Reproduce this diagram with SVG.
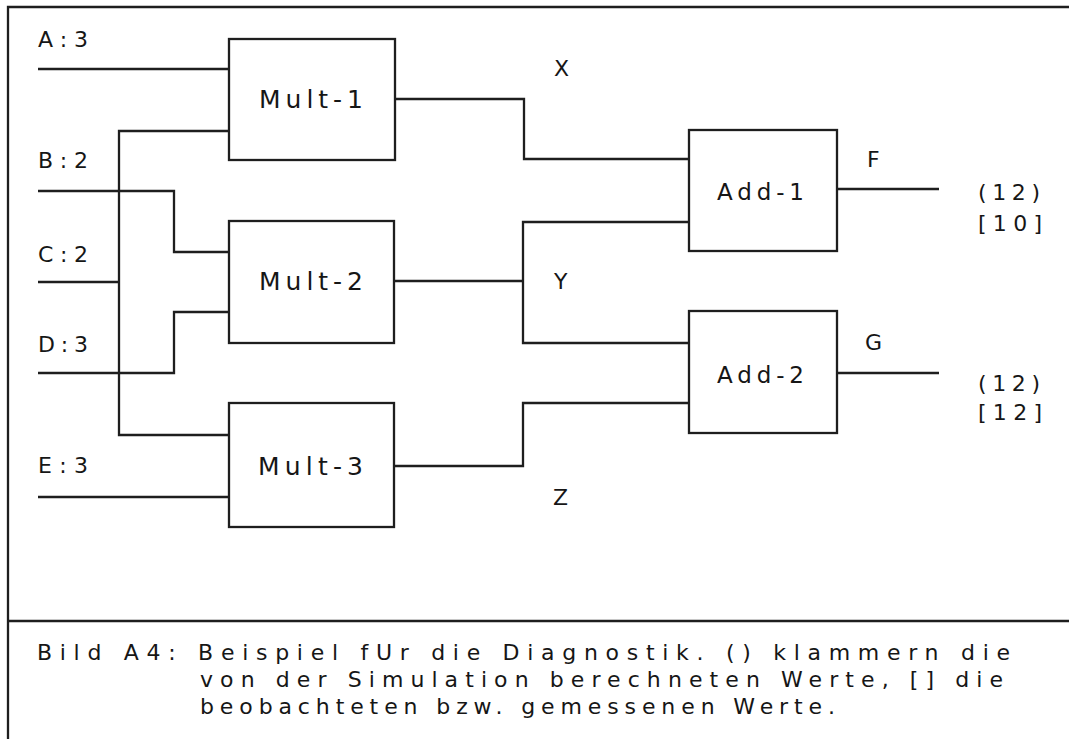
<svg xmlns="http://www.w3.org/2000/svg" width="1069" height="739" viewBox="0 0 1069 739">
<style>
.frame{fill:none;stroke:#1e1e1e;stroke-width:2.3}
.box{fill:#fff;stroke:#1e1e1e;stroke-width:2.3}
.wire{fill:none;stroke:#1e1e1e;stroke-width:2.3}
text{font-family:"DejaVu Sans","Liberation Sans",sans-serif;fill:#161616}
.lbl{font-size:22px}
.mult{font-size:25px}
.add{font-size:23px}
.cap{font-size:22px}
</style>
<rect x="0" y="0" width="1069" height="739" fill="#fff"/>
<g id="frame">
<path class="frame" d="M8,739 V7 H1069"/>
<path class="frame" d="M8,621 H1069"/>
</g>
<g id="connectors">
<path class="wire" d="M38,69 H229"/>
<path class="wire" d="M38,191 H174 V252 H229"/>
<path class="wire" d="M38,282 H119"/>
<path class="wire" d="M229,131 H119 V435 H229"/>
<path class="wire" d="M38,373 H174 V312 H229"/>
<path class="wire" d="M38,497 H229"/>
<path class="wire" d="M394,99 H524 V159 H689"/>
<path class="wire" d="M394,281 H523"/>
<path class="wire" d="M689,222 H523 V343 H689"/>
<path class="wire" d="M394,466 H523 V403 H689"/>
<path class="wire" d="M837,189 H939"/>
<path class="wire" d="M837,373 H939"/>
</g>
<g id="inputs">
<text class="lbl" x="38" y="47" textLength="50" lengthAdjust="spacing">A:3</text>
<text class="lbl" x="38" y="168" textLength="50" lengthAdjust="spacing">B:2</text>
<text class="lbl" x="38" y="262" textLength="50" lengthAdjust="spacing">C:2</text>
<text class="lbl" x="38" y="352" textLength="50" lengthAdjust="spacing">D:3</text>
<text class="lbl" x="38" y="473" textLength="50" lengthAdjust="spacing">E:3</text>
</g>
<g id="mult1">
<rect class="box" x="229" y="39" width="166" height="121"/>
<text class="mult" x="259" y="108" textLength="104" lengthAdjust="spacing">Mult-1</text>
</g>
<g id="mult2">
<rect class="box" x="229" y="221" width="165" height="122"/>
<text class="mult" x="259" y="290" textLength="104" lengthAdjust="spacing">Mult-2</text>
</g>
<g id="mult3">
<rect class="box" x="229" y="403" width="165" height="124"/>
<text class="mult" x="258" y="475" textLength="105" lengthAdjust="spacing">Mult-3</text>
</g>
<g id="add1">
<rect class="box" x="689" y="130" width="148" height="121"/>
<text class="add" x="717" y="200" textLength="87" lengthAdjust="spacing">Add-1</text>
</g>
<g id="add2">
<rect class="box" x="689" y="311" width="148" height="122"/>
<text class="add" x="717" y="383" textLength="87" lengthAdjust="spacing">Add-2</text>
</g>
<g id="signals">
<text class="lbl" x="554" y="76">X</text>
<text class="lbl" x="554" y="289">Y</text>
<text class="lbl" x="553" y="505">Z</text>
<text class="lbl" x="867" y="167">F</text>
<text class="lbl" x="865" y="350">G</text>
</g>
<g id="values">
<text class="lbl" x="978" y="200" textLength="62" lengthAdjust="spacing">(12)</text>
<text class="lbl" x="978" y="231" textLength="64" lengthAdjust="spacing">[10]</text>
<text class="lbl" x="978" y="391" textLength="62" lengthAdjust="spacing">(12)</text>
<text class="lbl" x="978" y="420" textLength="64" lengthAdjust="spacing">[12]</text>
</g>
<g id="caption">
<text class="cap" x="37" y="660" textLength="973" lengthAdjust="spacing">Bild A4: Beispiel fUr die Diagnostik. () klammern die</text>
<text class="cap" x="200" y="687" textLength="803" lengthAdjust="spacing">von der Simulation berechneten Werte, [] die</text>
<text class="cap" x="200" y="714" textLength="635" lengthAdjust="spacing">beobachteten bzw. gemessenen Werte.</text>
</g>
</svg>
